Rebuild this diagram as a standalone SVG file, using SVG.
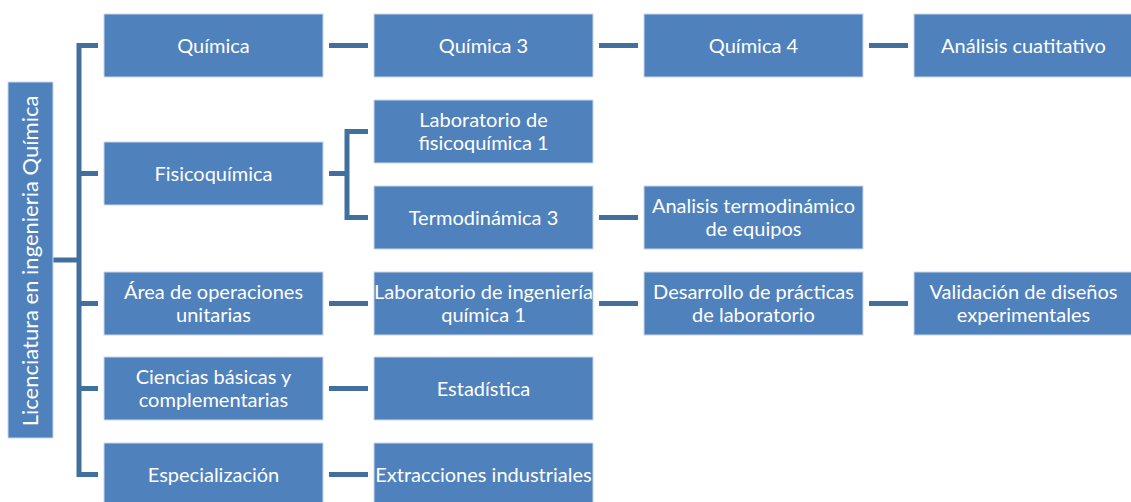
<svg xmlns="http://www.w3.org/2000/svg" width="1131" height="502" viewBox="0 0 1131 502">
<style>
.box{fill:#4f81bd;stroke:#c9d7ea;stroke-width:1}
.t{fill:#ffffff;font-family:Lato,"Liberation Sans",sans-serif;font-size:20px;text-anchor:middle}
.c{fill:none;stroke:#41709f;stroke-width:5;stroke-linejoin:miter}
</style>
<rect width="1131" height="502" fill="#ffffff"/>
<g id="connectors">
<path class="c" d="M53,260 H79 M98,45.5 H79 V474.5 H98 M79,173.5 H98 M79,303.5 H98 M79,388.5 H98"/>
<path class="c" d="M329,45.5 H368 M599,45.5 H638 M869,45.5 H908"/>
<path class="c" d="M329,173.5 H347 M368,131.5 H347 V217.5 H368"/>
<path class="c" d="M599,217.5 H638"/>
<path class="c" d="M329,303.5 H368 M599,303.5 H638 M869,303.5 H908"/>
<path class="c" d="M329,388.5 H368 M329,474.5 H368"/>
</g>
<g id="root">
<rect class="box" x="8" y="82" width="45" height="356"/>
<text class="t" style="font-size:22px" transform="translate(38,261) rotate(-90)" x="0" y="0">Licenciatura en ingenieria Química</text>
</g>
<g id="quimica"><rect class="box" x="104" y="14" width="219" height="63"/><text class="t" x="213.5" y="52.5">Química</text></g>
<g id="quimica3"><rect class="box" x="374" y="14" width="219" height="63"/><text class="t" x="483.5" y="52.5">Química 3</text></g>
<g id="quimica4"><rect class="box" x="644" y="14" width="219" height="63"/><text class="t" x="753.5" y="52.5">Química 4</text></g>
<g id="analisis-cuat"><rect class="box" x="914" y="14" width="219" height="63"/><text class="t" x="1023.5" y="52.5">Análisis cuatitativo</text></g>
<g id="fisicoquimica"><rect class="box" x="104" y="142" width="219" height="63"/><text class="t" x="213.5" y="180.5">Fisicoquímica</text></g>
<g id="lab-fisico"><rect class="box" x="374" y="100" width="219" height="63"/><text class="t" x="483.5" y="127">Laboratorio de</text><text class="t" x="483.5" y="150">fisicoquímica 1</text></g>
<g id="termo3"><rect class="box" x="374" y="186" width="219" height="63"/><text class="t" x="483.5" y="224.5">Termodinámica 3</text></g>
<g id="analisis-termo"><rect class="box" x="644" y="186" width="219" height="63"/><text class="t" x="753.5" y="213">Analisis termodinámico</text><text class="t" x="753.5" y="236">de equipos</text></g>
<g id="area-op"><rect class="box" x="104" y="272" width="219" height="63"/><text class="t" x="213.5" y="299">Área de operaciones</text><text class="t" x="213.5" y="322">unitarias</text></g>
<g id="lab-ing"><rect class="box" x="374" y="272" width="219" height="63"/><text class="t" x="483.5" y="299">Laboratorio de ingeniería</text><text class="t" x="483.5" y="322">química 1</text></g>
<g id="desarrollo"><rect class="box" x="644" y="272" width="219" height="63"/><text class="t" x="753.5" y="299">Desarrollo de prácticas</text><text class="t" x="753.5" y="322">de laboratorio</text></g>
<g id="validacion"><rect class="box" x="914" y="272" width="219" height="63"/><text class="t" x="1023.5" y="299">Validación de diseños</text><text class="t" x="1023.5" y="322">experimentales</text></g>
<g id="ciencias"><rect class="box" x="104" y="357" width="219" height="63"/><text class="t" x="213.5" y="384">Ciencias básicas y</text><text class="t" x="213.5" y="407">complementarias</text></g>
<g id="estadistica"><rect class="box" x="374" y="357" width="219" height="63"/><text class="t" x="483.5" y="395.5">Estadística</text></g>
<g id="especializacion"><rect class="box" x="104" y="443" width="219" height="63"/><text class="t" x="213.5" y="481.5">Especialización</text></g>
<g id="extracciones"><rect class="box" x="374" y="443" width="219" height="63"/><text class="t" x="483.5" y="481.5">Extracciones industriales</text></g>
</svg>
